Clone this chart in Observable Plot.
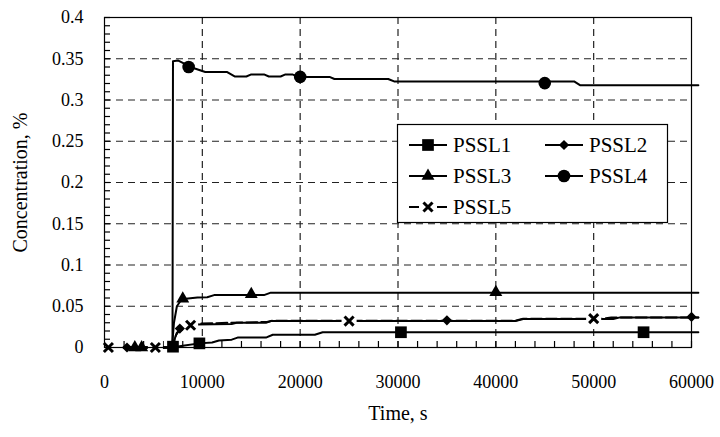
<!DOCTYPE html>
<html><head><meta charset="utf-8">
<script src="https://cdn.jsdelivr.net/npm/d3@7"></script>
<script src="https://cdn.jsdelivr.net/npm/@observablehq/plot@0.6"></script>
<style>
body{margin:0;background:#fff;}
#chart{width:720px;height:437px;}
#chart svg text{font-family:'Liberation Serif',serif;}
</style></head><body><div id="chart"></div>
<script>
// ---- data (time in s, concentration in %) ----
const seriesNames = ["PSSL1", "PSSL2", "PSSL3", "PSSL4", "PSSL5"];
const xTicks = [0, 10000, 20000, 30000, 40000, 50000, 60000];
const xTickLabels = ["0", "10000", "20000", "30000", "40000", "50000", "60000"];
const yTicks = [0, 0.05, 0.1, 0.15, 0.2, 0.25, 0.3, 0.35, 0.4];
const yTickLabels = ["0", "0.05", "0.1", "0.15", "0.2", "0.25", "0.3", "0.35", "0.4"];
const xLabel = "Time, s";
const yLabel = "Concentration, %";

const pssl1Line = [[2000,0],[6900,0],[8000,0.002],[9700,0.005],[11000,0.006],[11700,0.0085],[13000,0.0095],[13600,0.012],[16500,0.012],[17200,0.0155],[21500,0.0155],[22300,0.0185],[60700,0.0185]];
const pssl1Marks = [[7000,0.001],[9700,0.005],[30300,0.0185],[55100,0.0185]];

const pssl2Line = [[2000,0],[6900,0],[7300,0.015],[7700,0.022],[8300,0.024],[8800,0.026],[9400,0.028],[13000,0.0285],[13500,0.030],[16500,0.030],[17000,0.032],[42000,0.032],[42800,0.0345],[52000,0.0345],[52700,0.0365],[60700,0.0365]];
const pssl2Marks = [[2300,0],[7700,0.023],[35000,0.033],[60000,0.037]];

const pssl3Line = [[2000,0],[6900,0],[7100,0.03],[7400,0.05],[7800,0.057],[8300,0.059],[9500,0.0605],[10500,0.061],[11200,0.0635],[16300,0.0635],[17000,0.0665],[60700,0.0665]];
const pssl3Marks = [[3100,0],[3800,0],[8000,0.059],[15000,0.0645],[40000,0.067]];

const pssl4Line = [[2000,0],[6950,0],[7000,0.347],[7500,0.348],[8000,0.345],[9000,0.339],[10300,0.334],[12500,0.334],[13300,0.3285],[14500,0.3285],[15000,0.331],[16300,0.331],[16800,0.3285],[18000,0.3285],[18500,0.331],[19200,0.331],[19800,0.328],[23000,0.328],[23500,0.3255],[29000,0.3255],[29600,0.3225],[48000,0.3225],[48600,0.318],[60700,0.318]];
const pssl4Marks = [[8600,0.340],[20000,0.328],[45000,0.3205]];

const pssl5Line = [[2000,0],[6900,0],[7400,0.018],[8800,0.027],[9800,0.029],[13000,0.030],[16600,0.031],[17200,0.0325],[42000,0.0325],[42800,0.035],[51000,0.035],[51800,0.0365],[60700,0.0365]];
const pssl5Marks = [[400,0],[5200,0],[8800,0.027],[25000,0.032],[50000,0.035]];

const xMinor = d3.range(0, 60001, 2000);
const yMinor = d3.range(0, 0.4001, 0.01);
const xGrid = [10000, 20000, 30000, 40000, 50000];
const yGrid = [0.05, 0.1, 0.15, 0.2, 0.25, 0.3, 0.35];

// ---- layout ----
const W = 720, H = 437, mL = 104, mR = 29, mT = 17, mB = 90;
const plotW = W - mL - mR, plotH = H - mT - mB;
const FONT = "'Liberation Serif', serif";

const rows = a => a.map(([t, c]) => ({t, c}));
const symbols = {
  PSSL1: {symbol: "square", r: 6.6},
  PSSL2: {symbol: "diamond2", r: 4.6},
  PSSL3: {symbol: "triangle", r: 4.8},
  PSSL4: {symbol: "circle", r: 6.3},
  PSSL5: {symbol: "times", r: 4.2}
};
const lines = {PSSL1: pssl1Line, PSSL2: pssl2Line, PSSL3: pssl3Line, PSSL4: pssl4Line, PSSL5: pssl5Line};
const marks = {PSSL1: pssl1Marks, PSSL2: pssl2Marks, PSSL3: pssl3Marks, PSSL4: pssl4Marks, PSSL5: pssl5Marks};

const lineMarks = seriesNames.map(n => Plot.line(rows(lines[n]), {
  x: "t", y: "c", stroke: "black", strokeWidth: 2,
  strokeDasharray: n === "PSSL5" ? "11,4" : null, curve: "linear"
}));
const dotMarks = seriesNames.map(n => {
  const s = symbols[n];
  return n === "PSSL5"
    ? Plot.dot(rows(marks[n]), {x: "t", y: "c", symbol: "times", r: s.r, stroke: "black", strokeWidth: 3, fill: "none"})
    : Plot.dot(rows(marks[n]), {x: "t", y: "c", symbol: s.symbol, r: s.r, fill: "black", stroke: "none"});
});

const plot = Plot.plot({
  width: W, height: H,
  marginLeft: mL, marginRight: mR, marginTop: mT, marginBottom: mB,
  style: {fontFamily: FONT, fontSize: "18px", color: "black", background: "white", overflow: "visible"},
  x: {domain: [0, 60000]},
  y: {domain: [0, 0.4]},
  marks: [
    Plot.gridX(xGrid, {stroke: "#222", strokeOpacity: 1, strokeWidth: 1.2, strokeDasharray: "7,5"}),
    Plot.gridY(yGrid, {stroke: "#222", strokeOpacity: 1, strokeWidth: 1.2, strokeDasharray: "7,5"}),
    Plot.ruleX(xMinor, {insetTop: plotH - 6, stroke: "black", strokeWidth: 1.2}),
    Plot.ruleY(yMinor, {insetRight: plotW - 6, stroke: "black", strokeWidth: 1.2}),
    Plot.axisX(xTicks, {tickSize: 0, tickPadding: 28, tickFormat: d => xTickLabels[xTicks.indexOf(d)], label: null, fontSize: 18, fontFamily: FONT}),
    Plot.axisY(yTicks, {tickSize: 0, tickPadding: 21, tickFormat: d => yTickLabels[yTicks.indexOf(d)], label: null, fontSize: 18, fontFamily: FONT}),
    ...lineMarks,
    Plot.dot(rows(pssl5Marks), {x: "t", y: "c", symbol: "square", r: 8.5, fill: "white"}),
    ...dotMarks,
    Plot.frame({stroke: "black", strokeWidth: 1.2}),
    Plot.text([xLabel], {frameAnchor: "bottom", dy: 72, fontSize: 20, fontFamily: FONT, textAnchor: "middle"}),
    Plot.text([yLabel], {frameAnchor: "left", dx: -84, rotate: -90, fontSize: 20, fontFamily: FONT, textAnchor: "middle"})
  ]
});
document.getElementById("chart").appendChild(plot);

// ---- legend ----
const svg = d3.select(plot);
const lg = svg.append("g").attr("font-family", FONT).attr("font-size", 21).attr("text-anchor", "start");
lg.append("rect").attr("x", 397.5).attr("y", 124.5).attr("width", 270).attr("height", 98)
  .attr("fill", "white").attr("stroke", "black").attr("stroke-width", 1.2);
const d3sym = {square: d3.symbolSquare, diamond2: d3.symbolDiamond2, triangle: d3.symbolTriangle, circle: d3.symbolCircle, times: d3.symbolTimes};
const legendPos = {PSSL1: [409, 145], PSSL2: [545, 145], PSSL3: [409, 176], PSSL4: [545, 176], PSSL5: [409, 207]};
seriesNames.forEach(n => {
  const [x0, y0] = legendPos[n];
  const s = symbols[n];
  const g = lg.append("g");
  if (n === "PSSL5") {
    g.append("line").attr("x1", x0).attr("x2", x0 + 10).attr("y1", y0).attr("y2", y0).attr("stroke", "black").attr("stroke-width", 2);
    g.append("line").attr("x1", x0 + 28).attr("x2", x0 + 38).attr("y1", y0).attr("y2", y0).attr("stroke", "black").attr("stroke-width", 2);
    g.append("path").attr("d", d3.symbol(d3sym.times, Math.PI * s.r * s.r)()).attr("transform", `translate(${x0 + 19},${y0})`)
      .attr("stroke", "black").attr("stroke-width", 3).attr("fill", "none");
  } else {
    g.append("line").attr("x1", x0).attr("x2", x0 + 38).attr("y1", y0).attr("y2", y0).attr("stroke", "black").attr("stroke-width", 2);
    g.append("path").attr("d", d3.symbol(d3sym[s.symbol], Math.PI * s.r * s.r)()).attr("transform", `translate(${x0 + 19},${y0})`)
      .attr("fill", "black");
  }
  g.append("text").attr("x", x0 + 44).attr("y", y0).attr("dy", "0.35em").attr("text-anchor", "start").text(n);
});
</script>
</body></html>
